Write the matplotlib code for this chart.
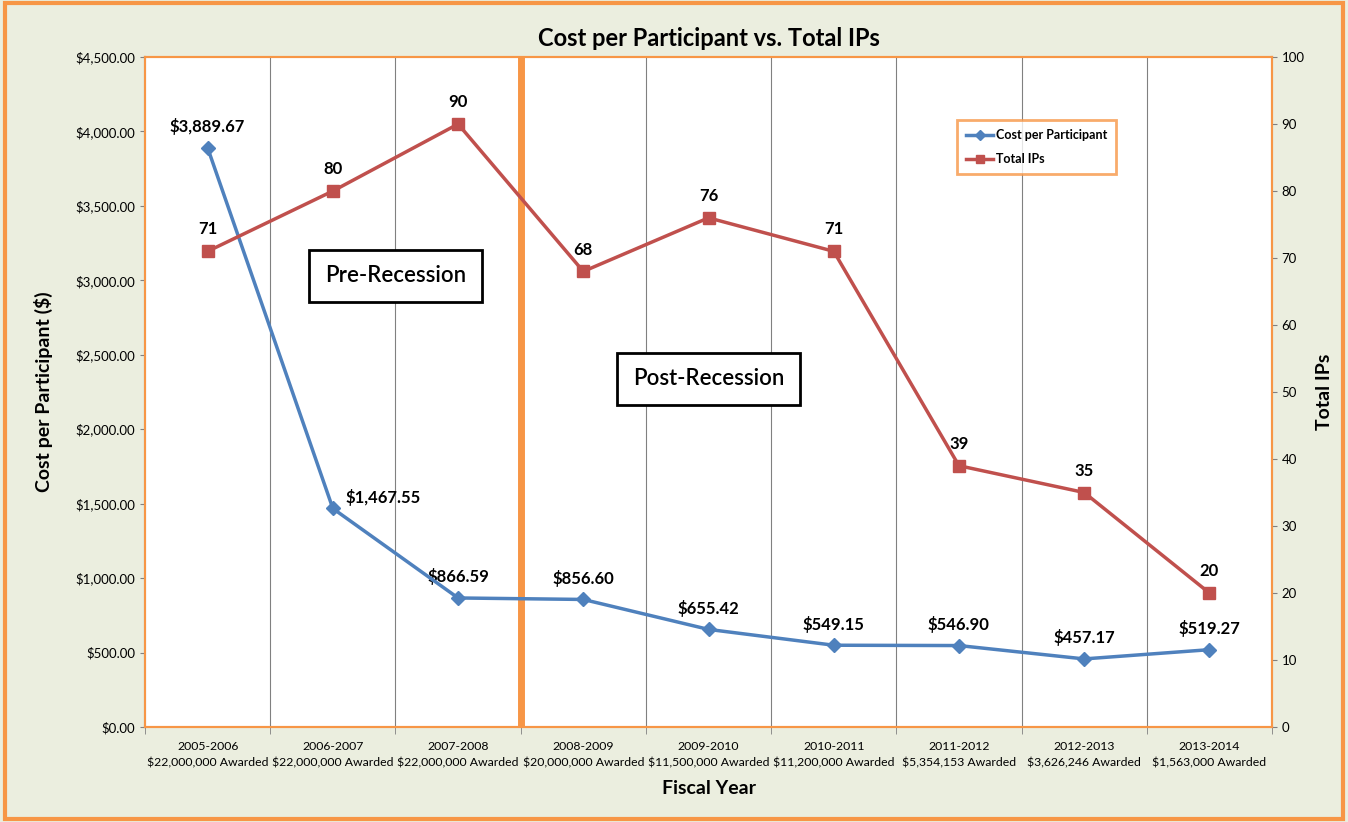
import matplotlib
matplotlib.use("Agg")
import matplotlib.pyplot as plt
from matplotlib.patches import Rectangle
from matplotlib.ticker import FuncFormatter, MultipleLocator

years = ["2005-2006", "2006-2007", "2007-2008", "2008-2009", "2009-2010",
         "2010-2011", "2011-2012", "2012-2013", "2013-2014"]
awarded = ["$22,000,000", "$22,000,000", "$22,000,000", "$20,000,000", "$11,500,000",
           "$11,200,000", "$5,354,153", "$3,626,246", "$1,563,000"]
cost = [3889.67, 1467.55, 866.59, 856.60, 655.42, 549.15, 546.90, 457.17, 519.27]
ips = [71, 80, 90, 68, 76, 71, 39, 35, 20]

plt.rcParams['font.family'] = ['Lato', 'DejaVu Sans']
bg = '#EBEEDF'
orange = '#F79646'
blue = '#4F81BD'
red = '#C0504D'

fig = plt.figure(figsize=(13.48, 8.22), dpi=100, facecolor=bg)
fig.patches.append(Rectangle((0.004, 0.004), 0.992, 0.992, transform=fig.transFigure,
                             fill=False, edgecolor=orange, linewidth=3))
ax = fig.add_axes([0.1076, 0.1156, 0.836, 0.815])
ax2 = ax.twinx()

x = list(range(len(years)))
ax.set_xlim(-0.5, len(years) - 0.5)
ax.set_ylim(0, 4500)
ax2.set_ylim(0, 100)

# category separators
for b in range(1, len(years)):
    ax.axvline(b - 0.5, color='#808080', lw=0.8, zorder=1)
ax.axvline(2.5, color=orange, lw=5, zorder=2)

ax.plot(x, cost, color=blue, lw=2.5, marker='D', ms=7, zorder=4)
ax2.plot(x, ips, color=red, lw=2.5, marker='s', ms=8, zorder=4)
ax.plot([], [], color=blue, lw=2.5, marker='D', ms=5, label='Cost per Participant')
ax.plot([], [], color=red, lw=2.5, marker='s', ms=6, label='Total IPs')

for xi, c in zip(x, cost):
    off = (36, 2) if xi == 1 else (0, 9)
    ax.annotate("${:,.2f}".format(c), (xi, c), xytext=off, textcoords='offset points',
                ha='center', va='bottom', fontsize=12, fontweight='bold')
for xi, v in zip(x, ips):
    ax2.annotate(str(v), (xi, v), xytext=(0, 10), textcoords='offset points',
                 ha='center', va='bottom', fontsize=12, fontweight='bold')

ax.yaxis.set_major_locator(MultipleLocator(500))
ax.yaxis.set_major_formatter(FuncFormatter(lambda v, p: "${:,.2f}".format(v)))
ax2.yaxis.set_major_locator(MultipleLocator(10))
ax.set_xticks(x)
ax.set_xticklabels([y + "\n" + a + " Awarded" for y, a in zip(years, awarded)],
                   fontsize=8.8, linespacing=1.6)
ax.set_xticks([b - 0.5 for b in range(len(years) + 1)], minor=True)
ax.tick_params(axis='x', which='major', length=0, pad=10)
ax.tick_params(axis='x', which='minor', length=5, color='#808080')
ax.tick_params(axis='y', labelsize=9.5, color='#808080')
ax2.tick_params(axis='y', labelsize=9.5, color='#808080')

for a in (ax, ax2):
    for s in a.spines.values():
        s.set_color(orange)
        s.set_linewidth(1.5)
ax.spines['left'].set_color('#808080')

ax.set_ylabel("Cost per Participant ($)", fontsize=14, fontweight='bold', labelpad=16)
ax2.set_ylabel("Total IPs", fontsize=14, fontweight='bold', labelpad=8)
ax.set_xlabel("Fiscal Year", fontsize=14, fontweight='bold', labelpad=8)
ax.set_title("Cost per Participant vs. Total IPs", fontsize=17, fontweight='bold', pad=8)

box = dict(boxstyle='square,pad=0.7', facecolor='white', edgecolor='black', linewidth=2)
ax.text(1.5, 3030, "Pre-Recession", ha='center', va='center', fontsize=16,
        fontweight='semibold', bbox=box, zorder=5)
ax.text(4.0, 2340, "Post-Recession", ha='center', va='center', fontsize=16,
        fontweight='semibold', bbox=box, zorder=5)

leg = ax.legend(loc='upper left', bbox_to_anchor=(0.715, 0.915), fontsize=9, frameon=True,
                fancybox=False, edgecolor=orange, borderpad=0.7, labelspacing=1.0,
                handlelength=2.2, handletextpad=0.2)
leg.get_frame().set_linewidth(2)
for t in leg.get_texts():
    t.set_fontweight('bold')

fig.savefig("out.png", dpi=100, facecolor=bg)
